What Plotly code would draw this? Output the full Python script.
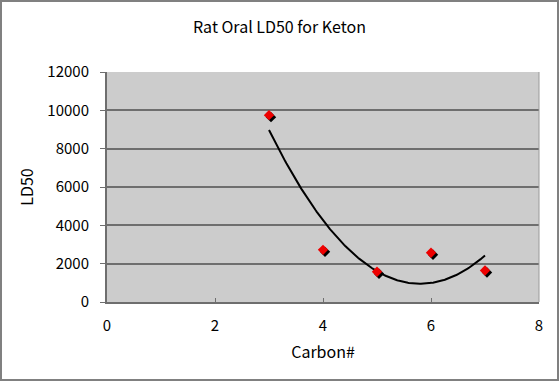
import numpy as np
import plotly.graph_objects as go

# Data
carbon = [3, 4, 5, 6, 7]
ld50 = [9750, 2720, 1580, 2570, 1640]
x_ticks = [0, 2, 4, 6, 8]
y_ticks = [0, 2000, 4000, 6000, 8000, 10000, 12000]
y_tick_text = ["0", "2000", "4000", "6000", "8000", "10000", "12000"]
title = "Rat Oral LD50 for Keton"
x_title = "Carbon#"
y_title = "LD50"

# Quadratic trendline (Excel polynomial order 2) fitted to the data
coef = np.polyfit(carbon, ld50, 2)
tx = np.linspace(min(carbon), max(carbon), 200)
ty = np.polyval(coef, tx)

W, H = 559, 381
L, R, T, B = 107, 20, 72, 79
pw, ph = W - L - R, H - T - B
xr = [0, 8]
yr = [0, 12000]
# shadow offset (pixels)
sdx, sdy = 2, 2
dx = sdx * (xr[1] - xr[0]) / pw
dy = sdy * (yr[1] - yr[0]) / ph

font = "Noto Sans CJK JP, DejaVu Sans, sans-serif"
grid = "#6e6e6e"

fig = go.Figure()
fig.add_trace(go.Scatter(x=tx, y=ty, mode="lines",
                         line=dict(color="black", width=2), showlegend=False,
                         hoverinfo="skip"))
fig.add_trace(go.Scatter(x=carbon, y=ld50, mode="markers", xaxis="x2", yaxis="y2",
                         marker=dict(symbol="diamond", size=8, color="black",
                                     line=dict(width=0)), showlegend=False,
                         hoverinfo="skip"))
fig.add_trace(go.Scatter(x=carbon, y=ld50, mode="markers", xaxis="x3", yaxis="y3",
                         marker=dict(symbol="diamond", size=8, color="#ee0000",
                                     line=dict(width=0)), showlegend=False))

fig.update_layout(
    width=W, height=H,
    margin=dict(l=L, r=R, t=T, b=B, pad=0),
    paper_bgcolor="white",
    plot_bgcolor="#cccccc",
    font=dict(family=font, size=15, color="black"),
    title=dict(text=title, x=0.5, xref="container", xanchor="center",
               y=1 - 27 / H, yref="container", yanchor="middle",
               font=dict(family=font, size=16)),
    xaxis=dict(range=xr, tickvals=x_ticks, ticks="inside", ticklen=4,
               tickcolor=grid, showgrid=False, zeroline=False,
               showline=True, linecolor=grid, linewidth=2, mirror=False,
               ticklabelstandoff=9,
               title=dict(text=x_title, standoff=13, font=dict(size=16)),
               tickfont=dict(size=15), fixedrange=True),
    yaxis=dict(range=yr, tickvals=y_ticks, ticktext=y_tick_text,
               ticks="outside", ticklen=5,
               tickcolor=grid, showgrid=True, gridcolor=grid, gridwidth=2,
               zeroline=False, showline=True, linecolor=grid, linewidth=2,
               ticklabelstandoff=8,
               title=dict(text=y_title, standoff=10, font=dict(size=16)),
               tickfont=dict(size=15), fixedrange=True),
    xaxis2=dict(range=[xr[0] - dx, xr[1] - dx], overlaying="x", visible=False,
                fixedrange=True),
    yaxis2=dict(range=[yr[0] + dy, yr[1] + dy], overlaying="y", visible=False,
                fixedrange=True),
    xaxis3=dict(range=xr, overlaying="x", visible=False, fixedrange=True),
    yaxis3=dict(range=yr, overlaying="y", visible=False, fixedrange=True),
    shapes=[
        dict(type="rect", xref="paper", yref="paper",
             x0=-(L - 1) / pw, x1=1 + (R - 1) / pw,
             y0=-(B - 1) / ph, y1=1 + (T - 1) / ph,
             line=dict(color="#808080", width=2), layer="below"),
        dict(type="line", xref="paper", yref="paper", x0=1, x1=1, y0=0, y1=1,
             line=dict(color="#9a9a9a", width=1)),
    ],
)

fig.write_html("out.html", config={"displayModeBar": False},
               post_script="document.body.style.margin='0';")
